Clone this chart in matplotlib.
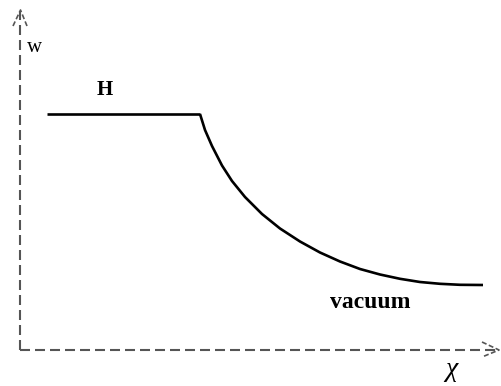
import matplotlib
matplotlib.use("Agg")
import matplotlib.pyplot as plt

# w(chi) sketch: flat plateau (H phase) then decay towards the vacuum value
chi_flat = [0.27, 1.80]
w_flat = [2.36, 2.36]

chi_curve = [1.80, 1.85, 1.92, 2.02, 2.12, 2.25, 2.42, 2.60, 2.80, 3.00,
             3.20, 3.40, 3.60, 3.80, 4.00, 4.20, 4.40, 4.63]
w_curve = [2.36, 2.20, 2.04, 1.845, 1.69, 1.53, 1.36, 1.215, 1.085, 0.975,
           0.885, 0.81, 0.755, 0.712, 0.68, 0.662, 0.652, 0.65]

axis_color = "#555555"
serif = ["Liberation Serif", "DejaVu Serif"]

fig = plt.figure(figsize=(5.01, 3.86), dpi=100)
ax = fig.add_axes([0, 0, 1, 1])
ax.set_xlim(-0.20, 4.81)
ax.set_ylim(-0.36, 3.50)
ax.axis("off")

# dashed axes with open arrowheads
dash = dict(color=axis_color, lw=1.5, linestyle=(0, (4.8, 2.4)))
ax.plot([0, 0], [0, 3.38], **dash)
ax.plot([0, 4.77], [0, 0], **dash)
ax.plot([-0.07, 0.005, 0.07], [3.24, 3.40, 3.24], color=axis_color, lw=1.2, linestyle=(0, (3, 1.5)))
ax.plot([4.62, 4.79, 4.62], [0.08, 0.0, -0.07], color=axis_color, lw=1.2, linestyle=(0, (3, 1.5)))

# the curve
ax.plot(chi_flat, w_flat, color="black", lw=1.9, solid_capstyle="butt")
ax.plot(chi_curve, w_curve, color="black", lw=1.9, solid_capstyle="butt", solid_joinstyle="round")

ax.text(0.145, 2.98, "w", family=serif, fontsize=15, ha="center", va="baseline")
ax.text(0.845, 2.55, "H", family=serif, fontsize=15, fontweight="bold", ha="center", va="baseline")
ax.text(3.50, 0.42, "vacuum", family=serif, fontsize=17, fontweight="bold", ha="center", va="baseline")
ax.text(4.31, -0.26, "χ", family=serif, fontsize=20, fontstyle="italic", ha="center", va="baseline")

fig.savefig("out.png", dpi=100)
